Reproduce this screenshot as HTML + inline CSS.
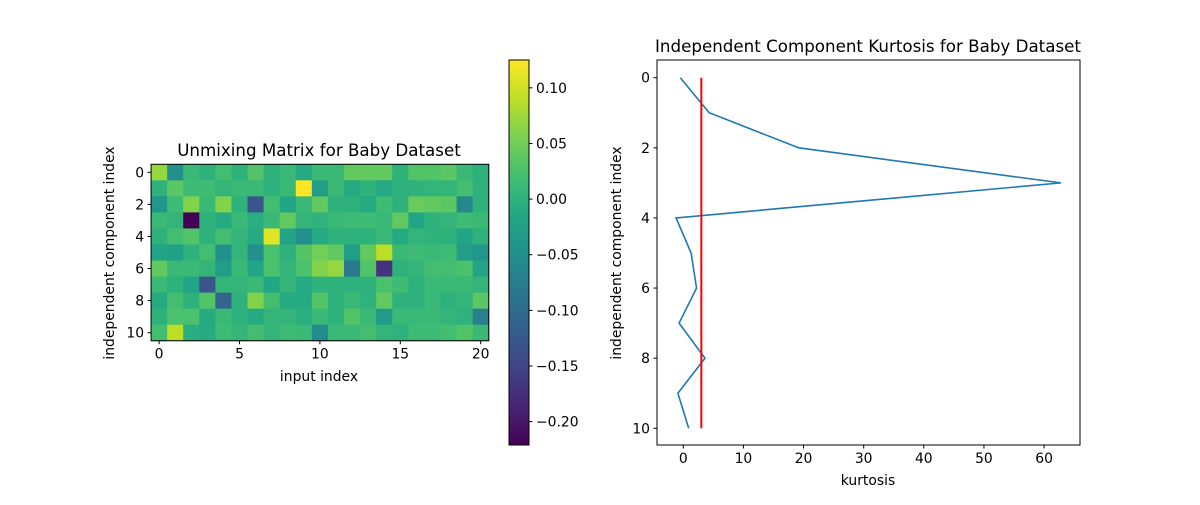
<!DOCTYPE html>
<html><head><meta charset="utf-8"><style>
body{margin:0;background:#fff;}
svg text{font-family:"DejaVu Sans","Liberation Sans",sans-serif;fill:#000;}
</style></head><body>
<svg id="fig" width="1200" height="500" xmlns="http://www.w3.org/2000/svg">
<defs>
<linearGradient id="vir" x1="0" y1="1" x2="0" y2="0">
<stop offset="0" stop-color="#440154"/><stop offset="0.1" stop-color="#482475"/><stop offset="0.2" stop-color="#414487"/><stop offset="0.3" stop-color="#355f8d"/><stop offset="0.4" stop-color="#2a788e"/><stop offset="0.5" stop-color="#21918c"/><stop offset="0.6" stop-color="#22a884"/><stop offset="0.7" stop-color="#44bf70"/><stop offset="0.8" stop-color="#7ad151"/><stop offset="0.9" stop-color="#bddf26"/><stop offset="1" stop-color="#fde725"/>
</linearGradient>
</defs>
<g id="heat"></g>
<g id="cbar"></g>
<g id="kurt"></g>
</svg>
<script>
const matrix = [
[0.07,-0.05,0.01,0.0,0.02,0.0,0.03,0.0,0.01,-0.01,0.01,0.01,0.04,0.04,0.04,0.0,0.03,0.03,0.035,0.01,0.0],
[0.0,0.035,0.015,0.015,0.005,0.01,0.01,0.0,0.01,0.125,-0.03,0.01,-0.01,0.0,-0.01,0.0,0.0,0.005,0.005,0.02,0.0],
[-0.04,0.015,0.06,0.01,0.06,0.0,-0.13,0.02,-0.02,0.01,0.04,0.0,0.0,-0.01,0.015,0.0,0.045,0.04,0.035,-0.06,0.0],
[0.01,0.005,-0.22,0.0,-0.01,0.01,-0.005,0.01,0.04,0.005,0.0,0.01,0.015,0.015,0.01,0.04,-0.02,0.0,0.005,0.015,0.01],
[0.0,0.02,0.03,0.0,0.02,0.005,-0.01,0.11,-0.02,-0.05,-0.01,0.0,0.0,0.0,0.01,-0.01,0.005,0.0,0.0,-0.02,0.0],
[-0.02,-0.025,0.0,0.02,-0.05,0.005,-0.05,0.025,0.0,0.03,0.05,0.04,-0.03,0.04,0.09,0.01,0.015,0.01,0.015,-0.03,-0.04],
[0.04,0.01,0.01,0.005,-0.03,0.01,-0.02,0.025,0.005,0.025,0.06,0.07,-0.08,0.03,-0.17,0.0,0.005,0.02,0.02,0.025,-0.02],
[0.01,0.0,-0.02,-0.13,0.005,0.005,0.01,-0.015,0.005,-0.01,0.0,0.0,0.0,0.0,0.025,0.015,0.0,0.01,0.01,0.01,0.005],
[-0.01,0.02,0.0,0.03,-0.11,0.0,0.06,0.02,-0.01,-0.01,0.03,0.0,0.01,0.0,0.04,0.0,0.0,0.01,0.0,0.005,0.035],
[0.0,0.025,0.025,-0.01,0.01,0.0,-0.01,0.005,0.005,-0.005,0.01,0.0,0.03,0.01,-0.035,0.01,0.01,0.01,0.005,0.0,-0.07],
[0.02,0.09,-0.005,-0.01,0.015,0.005,0.02,0.005,0.015,0.01,-0.055,0.01,0.01,0.02,0.005,0.0,0.015,0.015,0.02,0.03,0.01]
];
const heatXTicks = [0,5,10,15,20];
const heatYTicks = [0,2,4,6,8,10];
const cbarTicks = [0.10,0.05,0.00,-0.05,-0.10,-0.15,-0.20];
const kurtosis = [-0.5,4.3,19.2,62.8,-1.2,1.3,2.2,-0.7,3.6,-0.9,0.9];
const threshold = 3;
const kurtXTicks = [0,10,20,30,40,50,60];
const kurtYTicks = [0,2,4,6,8,10];

const NS="http://www.w3.org/2000/svg";
function mk(tag,attrs,parent,text){const e=document.createElementNS(NS,tag);for(const k in attrs)e.setAttribute(k,attrs[k]);if(text!==undefined)e.textContent=text;parent.appendChild(e);return e;}
const stops=["#440154","#482475","#414487","#355f8d","#2a788e","#21918c","#22a884","#44bf70","#7ad151","#bddf26","#fde725"];
function viridis(t){t=Math.max(0,Math.min(1,t));const p=t*10,i=Math.min(9,Math.floor(p)),f=p-i;
 const a=stops[i],b=stops[i+1];const c=[1,3,5].map(k=>Math.round(parseInt(a.substr(k,2),16)*(1-f)+parseInt(b.substr(k,2),16)*f));
 return "rgb("+c.join(",")+")";}
const vmin=-0.221,vmax=0.125;
const fmtNum=v=>(v<0?"\u2212":"")+Math.abs(v).toFixed(2);

// heatmap
const H=document.getElementById('heat');
const hx=v=>159.1+v*16.08, hy=v=>172.3+v*16.04;
matrix.forEach((row,r)=>row.forEach((v,c)=>{
 const e=mk('rect',{x:hx(c-0.5),y:hy(r-0.5),width:16.6,height:16.6,fill:viridis((v-vmin)/(vmax-vmin))},H);
 
 
}));
mk('rect',{x:hx(-0.5),y:hy(-0.5),width:hx(20.5)-hx(-0.5),height:hy(10.5)-hy(-0.5),fill:'none',stroke:'#000','stroke-width':1},H);
heatXTicks.forEach(t=>{mk('line',{x1:hx(t),x2:hx(t),y1:hy(10.5),y2:hy(10.5)+3.5,stroke:'#000'},H);
 const l=mk('text',{x:hx(t),y:hy(10.5)+18,'text-anchor':'middle','font-size':13.9},H,String(t));
 
 });
heatYTicks.forEach(t=>{mk('line',{x1:hx(-0.5),x2:hx(-0.5)-3.5,y1:hy(t),y2:hy(t),stroke:'#000'},H);
 const l=mk('text',{x:hx(-0.5)-7,y:hy(t)+5,'text-anchor':'end','font-size':13.9},H,String(t));
 
 });
let t1=mk('text',{x:319,y:156,'text-anchor':'middle','font-size':16.7},H,'Unmixing Matrix for Baby Dataset');


let t2=mk('text',{x:319,y:381,'text-anchor':'middle','font-size':13.9},H,'input index');


let t3=mk('text',{x:0,y:0,'text-anchor':'middle','font-size':13.9,transform:'translate(114,253) rotate(-90)'},H,'independent component index');



// colorbar
const C=document.getElementById('cbar');
const cy=v=>60+(vmax-v)/(vmax-vmin)*385;
mk('rect',{x:509,y:60,width:20,height:385,fill:'url(#vir)',stroke:'#000','stroke-width':1},C);
cbarTicks.forEach(t=>{mk('line',{x1:529,x2:532.5,y1:cy(t),y2:cy(t),stroke:'#000'},C);
 const l=mk('text',{x:536,y:cy(t)+5,'font-size':13.9},C,fmtNum(t));
 
 });

// kurtosis
const K=document.getElementById('kurt');
const kx=v=>683.3+v*6.013, ky=v=>77.7+v*35.06;
mk('rect',{x:657,y:60,width:423,height:385,fill:'none',stroke:'#000','stroke-width':1},K);
const pts=kurtosis.map((v,i)=>kx(v)+","+ky(i)).join(" ");
const line=mk('polyline',{points:pts,fill:'none',stroke:'#1f77b4','stroke-width':1.6},K);


const th=mk('line',{x1:kx(threshold),x2:kx(threshold),y1:ky(0),y2:ky(kurtosis.length-1),stroke:'#ff0000','stroke-width':2},K);


kurtXTicks.forEach(t=>{mk('line',{x1:kx(t),x2:kx(t),y1:445,y2:448.5,stroke:'#000'},K);
 const l=mk('text',{x:kx(t),y:463,'text-anchor':'middle','font-size':13.9},K,String(t));
 
 });
kurtYTicks.forEach(t=>{mk('line',{x1:657,x2:653.5,y1:ky(t),y2:ky(t),stroke:'#000'},K);
 const l=mk('text',{x:650,y:ky(t)+5,'text-anchor':'end','font-size':13.9},K,String(t));
 
 });
let k1=mk('text',{x:868,y:52,'text-anchor':'middle','font-size':16.7},K,'Independent Component Kurtosis for Baby Dataset');


let k2=mk('text',{x:868,y:485,'text-anchor':'middle','font-size':13.9},K,'kurtosis');


let k3=mk('text',{x:0,y:0,'text-anchor':'middle','font-size':13.9,transform:'translate(621,253) rotate(-90)'},K,'independent component index');


</script>
</body></html>
